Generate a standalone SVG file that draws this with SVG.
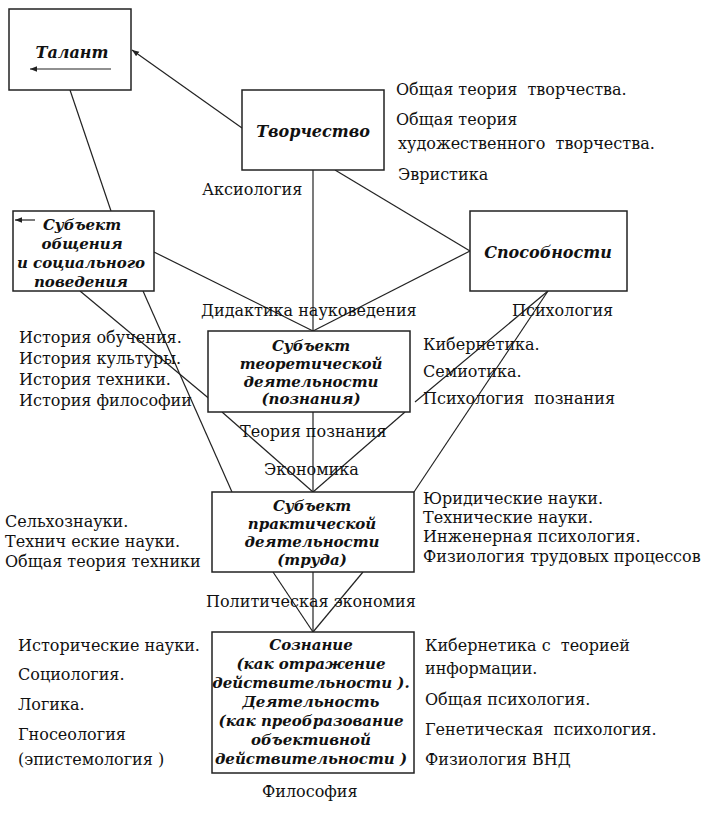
<svg xmlns="http://www.w3.org/2000/svg" width="720" height="820" viewBox="0 0 720 820">
<style>
.box{fill:#fff;stroke:#222;stroke-width:1.5}
.ln{fill:none;stroke:#222;stroke-width:1.2}
.t{font-family:"DejaVu Serif","Liberation Serif",serif;font-size:16px;fill:#111;white-space:pre}
.b{font-family:"DejaVu Serif","Liberation Serif",serif;font-size:15px;font-weight:bold;font-style:italic;fill:#111;text-anchor:middle;white-space:pre}
.b1{font-size:16px}
</style>
<defs>
<marker id="ah" viewBox="0 0 10 10" refX="10" refY="5" markerWidth="7" markerHeight="7" orient="auto" markerUnits="userSpaceOnUse">
<path d="M0,1 L10,5 L0,9 Z" fill="#222"/>
</marker>
</defs>
<rect width="720" height="820" fill="#fff"/>

<g id="connectors">
<line class="ln" x1="242" y1="128" x2="132" y2="50" marker-end="url(#ah)"/>
<line class="ln" x1="70" y1="90" x2="111" y2="211"/>
<line class="ln" x1="313" y1="170" x2="313" y2="331"/>
<line class="ln" x1="335" y1="170" x2="470" y2="251"/>
<line class="ln" x1="470" y1="251" x2="313" y2="331"/>
<line class="ln" x1="154" y1="252" x2="313" y2="331"/>
<line class="ln" x1="548" y1="291" x2="415" y2="402"/>
<line class="ln" x1="548" y1="291" x2="414" y2="492"/>
<line class="ln" x1="80" y1="291" x2="212" y2="401"/>
<line class="ln" x1="143" y1="291" x2="232" y2="492"/>
<line class="ln" x1="313" y1="412" x2="313" y2="492"/>
<line class="ln" x1="222" y1="412" x2="313" y2="492"/>
<line class="ln" x1="405" y1="412" x2="313" y2="492"/>
<line class="ln" x1="273" y1="572" x2="313" y2="632"/>
<line class="ln" x1="313" y1="572" x2="313" y2="632"/>
<line class="ln" x1="363" y1="572" x2="313" y2="632"/>
</g>

<g id="talant">
<rect class="box" x="9" y="9" width="122" height="81"/>
<text class="b b1" x="72" y="58">Талант</text>
<line class="ln" x1="111" y1="69" x2="30" y2="69" marker-end="url(#ah)"/>
</g>

<g id="tvorchestvo">
<rect class="box" x="242" y="90" width="142" height="80"/>
<text class="b b1" x="313" y="137">Творчество</text>
</g>

<g id="subject-obscheniya">
<rect class="box" x="13" y="211" width="141" height="80"/>
<line class="ln" x1="35" y1="220" x2="15" y2="220" marker-end="url(#ah)"/>
<text class="b" x="82" y="230">Субъект</text>
<text class="b" x="82" y="249">общения</text>
<text class="b" x="81" y="268">и социального</text>
<text class="b" x="81" y="287">поведения</text>
</g>

<g id="sposobnosti">
<rect class="box" x="470" y="211" width="157" height="80"/>
<text class="b b1" x="548" y="258">Способности</text>
</g>

<g id="subject-teor">
<rect class="box" x="208" y="331" width="202" height="81"/>
<text class="b" x="311" y="351">Субъект</text>
<text class="b" x="311" y="369">теоретической</text>
<text class="b" x="311" y="387">деятельности</text>
<text class="b" x="311" y="404">(познания)</text>
</g>

<g id="subject-prakt">
<rect class="box" x="212" y="492" width="202" height="80"/>
<text class="b" x="312" y="511">Субъект</text>
<text class="b" x="312" y="529">практической</text>
<text class="b" x="312" y="547">деятельности</text>
<text class="b" x="312" y="565">(труда)</text>
</g>

<g id="soznanie">
<rect class="box" x="212" y="632" width="202" height="141"/>
<text class="b" x="311" y="650">Сознание</text>
<text class="b" x="311" y="669">(как отражение</text>
<text class="b" x="311" y="688">действительности ).</text>
<text class="b" x="311" y="707">Деятельность</text>
<text class="b" x="311" y="726">(как преобразование</text>
<text class="b" x="311" y="745">объективной</text>
<text class="b" x="311" y="764">действительности )</text>
</g>

<g id="labels">
<text class="t" x="396" y="95">Общая теория  творчества.</text>
<text class="t" x="396" y="125">Общая теория</text>
<text class="t" x="398" y="149">художественного  творчества.</text>
<text class="t" x="398" y="180">Эвристика</text>
<text class="t" x="202" y="195">Аксиология</text>
<text class="t" x="201" y="316">Дидактика науковедения</text>
<text class="t" x="512" y="316">Психология</text>
<text class="t" x="19" y="343">История обучения.</text>
<text class="t" x="19" y="364">История культуры.</text>
<text class="t" x="19" y="385">История техники.</text>
<text class="t" x="19" y="406">История философии</text>
<text class="t" x="423" y="350">Кибернетика.</text>
<text class="t" x="423" y="377">Семиотика.</text>
<text class="t" x="423" y="404">Психология  познания</text>
<text class="t" x="240" y="437">Теория познания</text>
<text class="t" x="264" y="475">Экономика</text>
<text class="t" x="5" y="527">Сельхознауки.</text>
<text class="t" x="5" y="547">Технич еские науки.</text>
<text class="t" x="5" y="567">Общая теория техники</text>
<text class="t" x="423" y="504">Юридические науки.</text>
<text class="t" x="423" y="523">Технические науки.</text>
<text class="t" x="423" y="542">Инженерная психология.</text>
<text class="t" x="423" y="562">Физиология трудовых процессов</text>
<text class="t" x="206" y="607">Политическая экономия</text>
<text class="t" x="18" y="651">Исторические науки.</text>
<text class="t" x="18" y="680">Социология.</text>
<text class="t" x="18" y="710">Логика.</text>
<text class="t" x="18" y="740">Гносеология</text>
<text class="t" x="18" y="765">(эпистемология )</text>
<text class="t" x="425" y="651">Кибернетика с  теорией</text>
<text class="t" x="425" y="674">информации.</text>
<text class="t" x="425" y="705">Общая психология.</text>
<text class="t" x="425" y="735">Генетическая  психология.</text>
<text class="t" x="425" y="765">Физиология ВНД</text>
<text class="t" x="262" y="797">Философия</text>
</g>
</svg>
